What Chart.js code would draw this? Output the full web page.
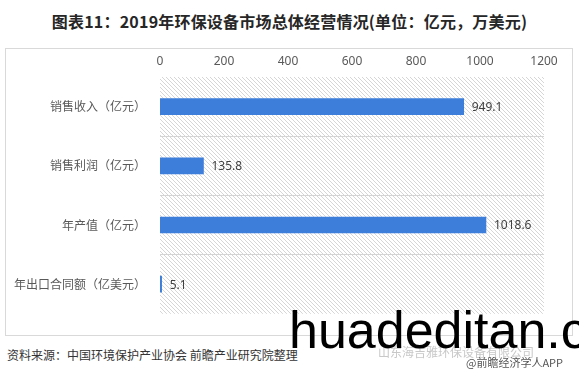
<!DOCTYPE html>
<html lang="zh">
<head>
  <meta charset="UTF-8" />
  <title>2019年环保设备市场总体经营情况</title>
  <script src="https://cdn.jsdelivr.net/npm/chart.js"></script>
  <style>
    body {
      margin: 0;
      width: 579px;
      height: 379px;
      background: #fff;
      position: relative;
      overflow: hidden;
      font-family: "Noto Sans CJK SC", "Noto Sans", sans-serif;
    }
    .title {
      position: absolute;
      top: 9px;
      left: 0;
      width: 579px;
      text-align: center;
      font-size: 16px;
      font-weight: bold;
      color: #262626;
      letter-spacing: 0.2px;
    }
    .frame {
      position: absolute;
      left: 5px;
      top: 48px;
      width: 566px;
      height: 286px;
      border: 1px solid #d9d9d9;
    }
    .source {
      position: absolute;
      left: 7px;
      top: 346px;
      font-size: 12px;
      color: #333;
    }
    .company {
      position: absolute;
      left: 378px;
      top: 343px;
      font-size: 12px;
      color: #c8c8c8;
    }
    .app {
      position: absolute;
      left: 466px;
      top: 354px;
      font-size: 11px;
      color: #555;
    }
    .mark {
      position: absolute;
      left: 289px;
      top: 300px;
      font-family: "Liberation Sans", Arial, sans-serif;
      font-size: 52px;
      color: #000;
      white-space: nowrap;
    }
  </style>
</head>
<body>

  <div class="title">图表11：2019年环保设备市场总体经营情况(单位：亿元，万美元)</div>

  <div class="frame">
    <canvas id="barChart"></canvas>
  </div>

  <div class="source">资料来源：中国环境保护产业协会 前瞻产业研究院整理</div>
  <div class="company">山东海吉雅环保设备有限公司</div>
  <div class="app">@前瞻经济学人APP</div>
  <div class="mark">huadeditan.com</div>

  <script>
    // data
    const categories = ['销售收入（亿元）', '销售利润（亿元）', '年产值（亿元）', '年出口合同额（亿美元）'];
    const values = [949.1, 135.8, 1018.6, 5.1];
    const axisTicks = [0, 200, 400, 600, 800, 1000, 1200];

    // diagonal hatch behind the bars
    function makeHatch(ctx) {
      const c = document.createElement('canvas');
      c.width = 4;
      c.height = 4;
      const p = c.getContext('2d');
      p.fillStyle = '#fff';
      p.fillRect(0, 0, 4, 4);
      p.strokeStyle = '#d6d6d6';
      p.lineWidth = 1;
      p.beginPath();
      p.moveTo(-1, -1); p.lineTo(5, 5);
      p.moveTo(-1, 3); p.lineTo(1, 5);
      p.moveTo(3, -1); p.lineTo(5, 1);
      p.stroke();
      return ctx.createPattern(c, 'repeat');
    }

    const hatchPlugin = {
      id: 'hatch',
      beforeDraw(chart) {
        const { ctx, chartArea: a } = chart;
        ctx.save();
        ctx.fillStyle = makeHatch(ctx);
        ctx.fillRect(a.left, a.top, a.right - a.left, a.bottom - a.top);
        ctx.restore();
      }
    };

    const valueLabels = {
      id: 'valueLabels',
      afterDatasetsDraw(chart) {
        const { ctx } = chart;
        const meta = chart.getDatasetMeta(0);
        ctx.save();
        ctx.font = '12px "Noto Sans", "DejaVu Sans", sans-serif';
        ctx.fillStyle = '#404040';
        ctx.textAlign = 'left';
        ctx.textBaseline = 'middle';
        meta.data.forEach((bar, i) => {
          ctx.fillText(values[i].toFixed(1), bar.x + 8, bar.y + 1);
        });
        ctx.restore();
      }
    };

    const ctx = document.getElementById('barChart').getContext('2d');
    new Chart(ctx, {
      type: 'bar',
      data: {
        labels: categories,
        datasets: [{
          data: values,
          backgroundColor: '#3d7edb',
          barThickness: 16
        }]
      },
      plugins: [hatchPlugin, valueLabels],
      options: {
        indexAxis: 'y',
        responsive: true,
        maintainAspectRatio: false,
        animation: false,
        layout: { padding: { left: 0, right: 28, top: 0, bottom: 15 } },
        scales: {
          x: {
            position: 'top',
            min: axisTicks[0],
            max: axisTicks[axisTicks.length - 1],
            afterBuildTicks: scale => {
              scale.ticks = axisTicks.map(v => ({ value: v }));
            },
            afterFit: scale => { scale.height = 28; },
            grid: { display: false, drawTicks: false },
            border: { display: false },
            ticks: {
              padding: 8,
              color: '#595959',
              callback: v => String(v),
              font: { size: 12, family: '"Noto Sans", "DejaVu Sans", sans-serif' }
            }
          },
          y: {
            afterFit: scale => { scale.width = 154; },
            grid: {
              drawTicks: false,
              color: c => (c.type !== 'tick' || c.index === 0) ? 'rgba(0,0,0,0)' : '#d4d4d4'
            },
            border: { display: false },
            ticks: {
              padding: 14,
              color: '#595959',
              font: { size: 12, family: '"Noto Sans CJK SC", sans-serif' }
            }
          }
        },
        plugins: {
          legend: { display: false },
          tooltip: { enabled: false }
        }
      }
    });
  </script>

</body>
</html>
